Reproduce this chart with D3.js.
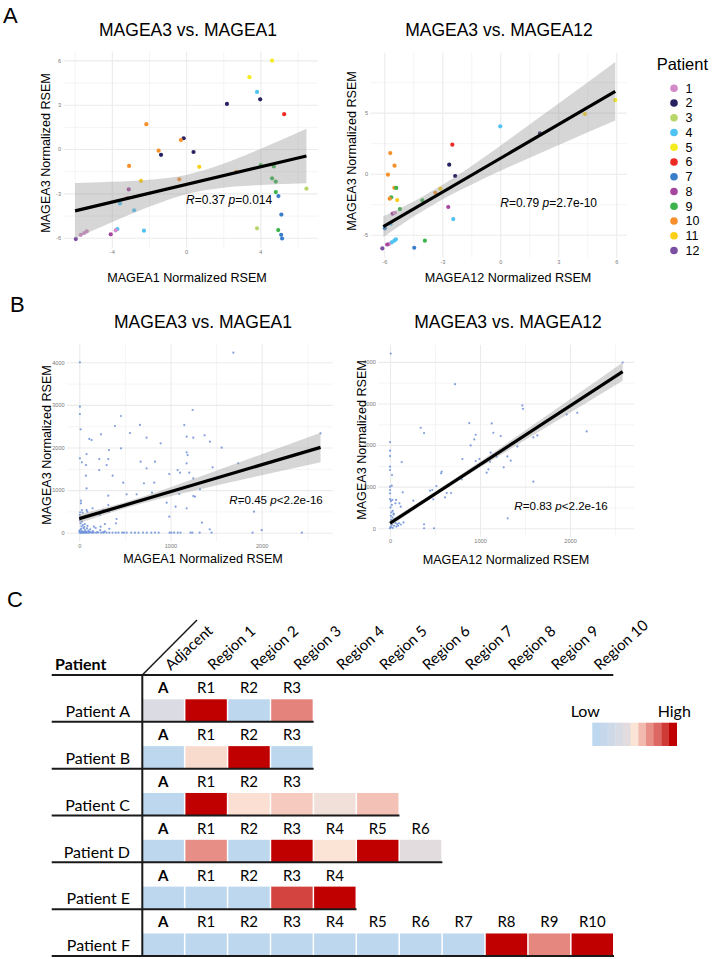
<!DOCTYPE html>
<html><head><meta charset="utf-8">
<script src="https://cdn.jsdelivr.net/npm/d3@7"></script>
<style>body{margin:0;background:#fff}svg{display:block}</style></head>
<body><svg id="c" width="712" height="959"></svg>
<script>
// ---------------- DATA ----------------
const patientIds = [1,2,3,4,5,6,7,8,9,10,11,12];
const patientColors = ["#d28ac8","#262262","#b8d66a","#4fc3f2","#f4eb1f","#ee2a24","#3a7dc9","#a6479f","#3bb34a","#f7902a","#fdd017","#7a4ea3"];

// Panel A left: [MAGEA1, MAGEA3, patient]
const aLeftPoints = [[4.63,5.98,5],[3.41,4.86,5],[3.82,3.86,4],[3.99,3.36,2],[2.2,3.05,2],[5.28,2.36,6],[-2.14,1.68,10],[-0.13,0.73,2],[-0.28,0.61,10],[-1.48,-0.11,10],[-1.35,-0.39,2],[0.4,-0.2,2],[-3.07,-1.14,10],[0.71,-1.2,11],[4.02,-1.09,9],[4.72,-1.18,9],[2.7,-1.55,10],[4.63,-1.98,9],[4.83,-2.2,9],[-2.43,-2.16,11],[-0.37,-2.05,10],[4.83,-2.91,9],[4.97,-3.18,7],[-3.09,-2.73,8],[-3.16,-3.3,1],[-3.56,-3.68,4],[-2.8,-4.14,4],[5.13,-4.43,7],[3.82,-5.36,3],[4.96,-5.48,9],[5.12,-5.8,7],[5.17,-6.05,7],[-2.27,-5.52,4],[-3.7,-5.41,4],[-3.79,-5.5,1],[-4.06,-5.77,8],[-5.67,-5.8,1],[-5.49,-5.68,1],[-5.35,-5.57,1],[-5.94,-6.09,12],[6.48,-2.68,3]];
const aLeftFit = [[-5.98,-4.18],[6.48,-0.47]];
const aLeftBand = [[-5.98,-6.06,-2.30],[-4,-4.96,-2.22],[-2,-3.91,-2.08],[0,-3.05,-1.75],[2,-2.61,-1.0],[4,-2.43,0.01],[6.48,-2.32,1.38]];
const aLeftStat = {x:0, y:-3.7, r:"=0.37 ", p:"=0.014"};

// Panel A right: [MAGEA12, MAGEA3, patient]
const aRightPoints = [[0,3.88,4],[-2.48,2.38,6],[-2.64,0.74,2],[-2.33,-0.19,2],[-5.69,1.69,10],[-5.47,0.66,10],[-5.81,-0.08,10],[-5.48,-1.15,10],[-5.38,-1.17,9],[-3.36,-1.56,10],[-3.1,-1.23,11],[-5.64,-1.94,9],[-5.72,-2.05,10],[-5.33,-2.16,11],[-5.19,-2.9,9],[-4.03,-2.19,9],[-2.69,-2.73,8],[-2.43,-3.72,4],[-5.57,-3.28,8],[-5.45,-3.2,1],[-5.97,-4.48,7],[-5.67,-4.1,4],[-5.4,-5.38,4],[-5.48,-5.49,4],[-5.62,-5.63,4],[-5.76,-5.77,1],[-5.85,-5.8,8],[-6.1,-6.12,12],[-3.9,-5.49,9],[-4.45,-6.07,7],[2.05,3.3,2],[4.38,4.89,11],[5.95,6.02,5]];
const aRightFit = [[-6.05,-4.34],[5.95,6.75]];
const aRightBand = [[-6.05,-5.19,-3.49],[-4.5,-3.53,-2.29],[-3,-2.11,-0.93],[-1,-0.51,1.17],[1,0.93,3.43],[3,2.33,5.73],[5.95,4.35,9.15]];
const aRightStat = {x:0, y:-2.7, r:"=0.79 ", p:"=2.7e-10"};

// Panel B left: [MAGEA1, MAGEA3]
const bLeftPoints = [[0,40],[7,3998],[7,2958],[7,2786],[15,2426],[7,1745],[1689,4225],[1243,2880],[1151,2527],[391,2504],[665,2530],[457,2739],[1177,2254],[1250,2230],[738,2230],[556,2340],[238,2308],[135,2175],[110,2200],[1374,2285],[1432,2136],[1561,1995],[892,2097],[457,1980],[325,1940],[219,1729],[318,1729],[80,1847],[29,1651],[73,1588],[219,1471],[300,1588],[673,1667],[830,1667],[738,1510],[1177,1886],[1188,1823],[1177,1628],[1743,1628],[1462,1534],[1078,1471],[1104,1408],[1206,1408],[987,1377],[73,1338],[366,1338],[1250,1275],[822,1174],[482,1174],[80,1040],[709,1158],[1323,1017],[1250,861],[1268,845],[629,900],[797,939],[519,900],[318,869],[1096,908],[958,704],[987,376],[1056,610],[1177,571],[1762,689],[1915,493],[1345,235],[2645,2332],[18,751],[18,689],[29,532],[37,469],[80,532],[88,493],[146,571],[226,415],[263,532],[318,649],[325,493],[409,321],[402,219],[281,203],[234,141],[161,141],[5,0],[12,5],[20,0],[28,10],[35,0],[45,5],[55,0],[65,8],[75,0],[90,4],[105,0],[120,6],[140,0],[160,3],[185,0],[210,5],[240,0],[270,2],[300,0],[330,0],[365,3],[400,0],[430,0],[470,2],[490,0],[520,0],[570,4],[610,0],[650,0],[700,3],[740,0],[790,0],[830,2],[870,0],[990,0],[1010,0],[1040,0],[1080,0],[1110,2],[1220,0],[1240,0],[1320,0],[1450,0],[1900,0],[2000,60],[2440,0],[1430,80],[10,60],[20,90],[30,40],[45,110],[60,70],[70,30],[85,100],[100,50],[25,150],[40,180],[55,130],[15,220],[8,300],[12,350],[30,260],[60,200],[90,160],[120,80],[150,40],[180,110],[230,60],[280,30],[330,90],[50,20],[80,15],[110,25],[140,10],[200,15],[260,10],[5,420],[10,480]];
const bLeftFit = [[0,330],[2645,2003]];
const bLeftBand = [[0,225,435],[500,576,716],[1000,858,1068],[1500,1106,1452],[2000,1348,1842],[2645,1655,2345]];
const bLeftStat = {x:1645, y:680, r:"=0.45 ", p:"<2.2e-16"};

// Panel B right: [MAGEA12, MAGEA3]
const bRightPoints = [[7,4200],[722,3464],[2585,3984],[1470,2952],[1478,2872],[1963,2736],[2081,2776],[2185,2328],[341,2416],[378,2288],[881,2528],[1130,2520],[1148,2296],[952,2248],[937,2136],[1230,2216],[896,1992],[1415,1968],[1593,2184],[1637,2232],[0,2072],[0,1864],[0,1736],[0,1480],[0,1400],[130,1592],[22,1280],[804,1664],[993,1664],[952,1616],[1111,1600],[1148,1760],[1118,1816],[1185,1720],[1304,1728],[1341,1624],[1093,1416],[1074,1336],[1263,1464],[574,1360],[567,1320],[1593,1120],[796,1176],[0,1000],[0,920],[0,840],[19,1024],[141,864],[444,904],[470,920],[515,1016],[630,848],[678,848],[611,744],[481,696],[259,664],[104,600],[119,520],[67,680],[1307,240],[378,96],[378,0],[489,0],[0,700],[10,650],[20,560],[5,500],[30,420],[15,380],[40,350],[8,300],[25,260],[50,220],[12,200],[35,160],[60,130],[80,100],[20,80],[45,60],[70,40],[5,20],[100,120],[120,90],[90,60],[30,10],[150,140],[60,600],[25,680],[40,330],[0,0],[10,30]];
const bRightFit = [[0,120],[2585,3764]];
const bRightBand = [[0,48,192],[500,775,875],[1000,1458,1602],[1500,2121,2349],[2000,2777,3101],[2585,3544,3984]];
const bRightStat = {x:1381, y:440, r:"=0.83 ", p:"<2.2e-16"};

// Panel C
const patients = ["Patient A","Patient B","Patient C","Patient D","Patient E","Patient F"];
const regionHeaders = ["Adjacent","Region 1","Region 2","Region 3","Region 4","Region 5","Region 6","Region 7","Region 8","Region 9","Region 10"];
const sampleLabels = [["A","R1","R2","R3"],["A","R1","R2","R3"],["A","R1","R2","R3"],["A","R1","R2","R3","R4","R5","R6"],["A","R1","R2","R3","R4"],["A","R1","R2","R3","R4","R5","R6","R7","R8","R9","R10"]];
const expressionLevels = [[3.3,10,0,7.3],[0,5.2,10,0],[0,10,5.1,5.6,4.6,5.8],[0,7,0,10,5,10,4],[0,0,0,8.8,10],[0,0,0,0,0,0,0,0,10,7.2,10]];
const legendLevels = [0,1,2,3,4,5,6,7,8,9,10];
const heatPalette = ["#bdd7ee","#c5d8eb","#ced9e8","#d8dbe4","#e3dcdf","#fbe3d6","#f2b9ae","#e78e86","#dd6863","#d03a36","#c00000"];

// ---------------- DRAW ----------------
const svg = d3.select("#c");
const SANS = "'Liberation Sans', Arial, Helvetica, sans-serif";
const colorOf = d3.scaleOrdinal().domain(patientIds).range(patientColors);

function panel(o){
  const allX = o.pts.map(d=>d[0]).concat(o.fit.map(d=>d[0]));
  const allY = o.pts.map(d=>d[1]).concat(o.band.map(d=>d[1]), o.band.map(d=>d[2]));
  const ex = d3.extent(allX), ey = d3.extent(allY);
  const px = (ex[1]-ex[0])*0.05, py = (ey[1]-ey[0])*0.05;
  const x = d3.scaleLinear().domain([ex[0]-px, ex[1]+px]).range(o.xr);
  const y = d3.scaleLinear().domain([ey[0]-py, ey[1]+py]).range(o.yr);
  const g = svg.append("g");
  const inX = v => v>=x.domain()[0] && v<=x.domain()[1];
  const inY = v => v>=y.domain()[0] && v<=y.domain()[1];
  const H = o.yr[0]-o.yr[1], W = o.xr[1]-o.xr[0];
  function gridX(vals, sw){
    g.append("g").attr("transform",`translate(0,${o.yr[0]})`)
     .call(d3.axisBottom(x).tickValues(vals.filter(inX)).tickSize(-H).tickFormat(""))
     .call(s=>{s.select(".domain").remove(); s.selectAll("line").attr("stroke","#ebebeb").attr("stroke-width",sw);});
  }
  function gridY(vals, sw){
    g.append("g").attr("transform",`translate(${o.xr[0]},0)`)
     .call(d3.axisLeft(y).tickValues(vals.filter(inY)).tickSize(-W).tickFormat(""))
     .call(s=>{s.select(".domain").remove(); s.selectAll("line").attr("stroke","#ebebeb").attr("stroke-width",sw);});
  }
  gridX(o.xMinor,0.55); gridY(o.yMinor,0.55);
  gridX(o.xMajor,1.1); gridY(o.yMajor,1.1);
  // tick labels
  g.append("g").attr("transform",`translate(0,${o.yr[0]})`)
   .call(d3.axisBottom(x).tickValues(o.xMajor.filter(inX)).tickSize(0).tickPadding(2.2).tickFormat(d=>String(d)))
   .call(s=>{s.select(".domain").remove(); s.selectAll("text").attr("font-family",SANS).attr("font-size",5.6).attr("fill","#7a7a7a");});
  g.append("g").attr("transform",`translate(${o.xr[0]},0)`)
   .call(d3.axisLeft(y).tickValues(o.yMajor.filter(inY)).tickSize(0).tickPadding(2.5).tickFormat(d=>String(d)))
   .call(s=>{s.select(".domain").remove(); s.selectAll("text").attr("font-family",SANS).attr("font-size",5.6).attr("fill","#7a7a7a");});
  // points
  g.append("g").selectAll("circle").data(o.pts).join("circle")
   .attr("cx",d=>x(d[0])).attr("cy",d=>y(d[1])).attr("r",o.r)
   .attr("fill",d=>o.colored? colorOf(d[2]) : "#6b8fd8").attr("fill-opacity",o.colored?1:0.85);
  // band
  g.append("path").datum(o.band)
   .attr("d",d3.area().x(d=>x(d[0])).y0(d=>y(d[1])).y1(d=>y(d[2])).curve(d3.curveMonotoneX))
   .attr("fill","#999999").attr("fill-opacity",0.4);
  // line
  g.append("path").datum(o.fit).attr("d",d3.line().x(d=>x(d[0])).y(d=>y(d[1])))
   .attr("stroke","#000").attr("stroke-width",3.2).attr("fill","none");
  // stat
  const t = g.append("text").attr("x",x(o.stat.x)).attr("y",y(o.stat.y))
   .attr("font-family",SANS).attr("font-size",o.statSize).attr("fill","#000");
  t.append("tspan").attr("font-style","italic").text("R");
  t.append("tspan").text(o.stat.r);
  t.append("tspan").attr("font-style","italic").text("p");
  t.append("tspan").text(o.stat.p);
  // titles
  g.append("text").attr("x",o.titleX).attr("y",o.titleY).attr("text-anchor","middle")
   .attr("font-family",SANS).attr("font-size",17.5).attr("fill","#000").text(o.title);
  g.append("text").attr("x",o.xtX).attr("y",o.xtY).attr("text-anchor","middle")
   .attr("font-family",SANS).attr("font-size",12.6).attr("fill","#000").text(o.xTitle);
  g.append("text").attr("transform",`translate(${o.ytX},${o.ytY}) rotate(-90)`).attr("text-anchor","middle")
   .attr("font-family",SANS).attr("font-size",12.6).attr("fill","#000").text(o.yTitle);
}

panel({pts:aLeftPoints, fit:aLeftFit, band:aLeftBand, stat:aLeftStat, statSize:12, colored:true, r:2.1,
  xr:[63.5,318], yr:[248,51.7], xMajor:[-4,0,4], xMinor:[-6,-2,2,6], yMajor:[-6,-3,0,3,6], yMinor:[-4.5,-1.5,1.5,4.5],
  title:"MAGEA3 vs. MAGEA1", titleX:188, titleY:36, xTitle:"MAGEA1 Normalized RSEM", xtX:187, xtY:281.5,
  yTitle:"MAGEA3 Normalized RSEM", ytX:49.5, ytY:153});
panel({pts:aRightPoints, fit:aRightFit, band:aRightBand, stat:aRightStat, statSize:12, colored:true, r:2.1,
  xr:[370.7,626.9], yr:[257.7,52.7], xMajor:[-6,-3,0,3,6], xMinor:[-4.5,-1.5,1.5,4.5], yMajor:[-5,0,5], yMinor:[-7.5,-2.5,2.5,7.5],
  title:"MAGEA3 vs. MAGEA12", titleX:499, titleY:36, xTitle:"MAGEA12 Normalized RSEM", xtX:508, xtY:281.5,
  yTitle:"MAGEA3 Normalized RSEM", ytX:356.2, ytY:151});
panel({pts:bLeftPoints, fit:bLeftFit, band:bLeftBand, stat:bLeftStat, statSize:11.6, colored:false, r:1.1,
  xr:[67.2,332.6], yr:[541.7,343.7], xMajor:[0,1000,2000], xMinor:[500,1500,2500], yMajor:[0,1000,2000,3000,4000], yMinor:[500,1500,2500,3500],
  title:"MAGEA3 vs. MAGEA1", titleX:203, titleY:328, xTitle:"MAGEA1 Normalized RSEM", xtX:203, xtY:563,
  yTitle:"MAGEA3 Normalized RSEM", ytX:50.5, ytY:445});
panel({pts:bRightPoints, fit:bRightFit, band:bRightBand, stat:bRightStat, statSize:11.6, colored:false, r:1.1,
  xr:[378.4,634.3], yr:[537,344.8], xMajor:[0,1000,2000], xMinor:[500,1500,2500], yMajor:[0,1000,2000,3000,4000], yMinor:[500,1500,2500,3500],
  title:"MAGEA3 vs. MAGEA12", titleX:508, titleY:328, xTitle:"MAGEA12 Normalized RSEM", xtX:506, xtY:564,
  yTitle:"MAGEA3 Normalized RSEM", ytX:366.2, ytY:440});

// legend (Patient)
const lg = svg.append("g");
lg.append("text").attr("x",656.7).attr("y",70).attr("font-family",SANS).attr("font-size",16.5).attr("fill","#000").text("Patient");
const ly = d3.scalePoint().domain(patientIds).range([88.3,250.5]);
lg.selectAll("circle").data(patientIds).join("circle").attr("cx",674).attr("cy",d=>ly(d)).attr("r",3.8).attr("fill",d=>colorOf(d));
lg.selectAll("text.lab").data(patientIds).join("text").attr("class","lab").attr("x",685.5).attr("y",d=>ly(d)+4.4)
  .attr("font-family",SANS).attr("font-size",12.5).attr("fill","#000").text(d=>d);

// panel letters
[["A",3,22.7],["B",10,311.7],["C",7,606.7]].forEach(([t,xx,yy])=>{
  svg.append("text").attr("x",xx).attr("y",yy).attr("font-family",SANS).attr("font-size",22).attr("fill","#000").text(t);
});

// ---------------- Panel C ----------------
const CF = "Lato, 'Open Sans', sans-serif";
const gc = svg.append("g");
const colX = d3.scaleBand().domain(d3.range(regionHeaders.length)).range([142.5,613]).paddingInner(0.035).paddingOuter(0);
const rowY = d3.scaleBand().domain(patients).range([675,956]);
const heat = d3.scaleLinear().domain(legendLevels).range(heatPalette).interpolate(d3.interpolateRgb);
const bw = colX.bandwidth(), rh = rowY.bandwidth();

gc.append("text").attr("x",55).attr("y",670).attr("font-family",CF).attr("font-weight","bold").attr("font-size",16).attr("fill","#000").text("Patient");
gc.selectAll("text.hdr").data(regionHeaders).join("text").attr("class","hdr")
  .attr("transform",(d,i)=>`translate(${colX(i)+bw/2+7.5},671) rotate(-42)`)
  .attr("font-family",CF).attr("font-size",15).attr("fill","#000").text(d=>d);

patients.forEach((p,i)=>{
  const top = rowY(p);
  const row = gc.append("g");
  row.selectAll("text").data(sampleLabels[i]).join("text")
    .attr("x",(d,j)=>colX(j)+bw/2).attr("y",top+18.3).attr("text-anchor","middle")
    .attr("font-family",CF).attr("font-size",15).attr("font-weight",(d,j)=>j===0?"bold":"normal").attr("fill","#000").text(d=>d);
  row.selectAll("rect").data(expressionLevels[i]).join("rect")
    .attr("x",(d,j)=>colX(j)).attr("y",top+24.3).attr("width",bw).attr("height",rh-24.3)
    .attr("fill",d=>heat(d));
  row.append("text").attr("x",130).attr("y",top+42).attr("text-anchor","end")
    .attr("font-family",CF).attr("font-size",16).attr("fill","#000").text(p);
  const n = expressionLevels[i].length;
  row.append("line").attr("x1",51.7).attr("x2",colX(n-1)+bw+1).attr("y1",top+rh).attr("y2",top+rh)
    .attr("stroke","#1a1a1a").attr("stroke-width",2);
});
gc.append("line").attr("x1",51.7).attr("x2",613.3).attr("y1",675).attr("y2",675).attr("stroke","#1a1a1a").attr("stroke-width",2);
gc.append("line").attr("x1",142.3).attr("x2",142.3).attr("y1",675).attr("y2",956).attr("stroke","#1a1a1a").attr("stroke-width",2);
gc.append("line").attr("x1",142.3).attr("x2",197).attr("y1",675).attr("y2",620).attr("stroke","#1a1a1a").attr("stroke-width",1.5);

// heat legend
const lx = d3.scaleBand().domain(legendLevels).range([592.3,676.7]);
gc.selectAll("rect.leg").data(legendLevels).join("rect").attr("class","leg")
  .attr("x",d=>lx(d)).attr("y",722.7).attr("width",lx.bandwidth()+0.3).attr("height",23.3).attr("fill",d=>heat(d));
gc.append("text").attr("x",570.7).attr("y",716.7).attr("font-family",CF).attr("font-size",16).attr("fill","#000").text("Low");
gc.append("text").attr("x",657.7).attr("y",716.7).attr("font-family",CF).attr("font-size",16).attr("fill","#000").text("High");
</script></body></html>
